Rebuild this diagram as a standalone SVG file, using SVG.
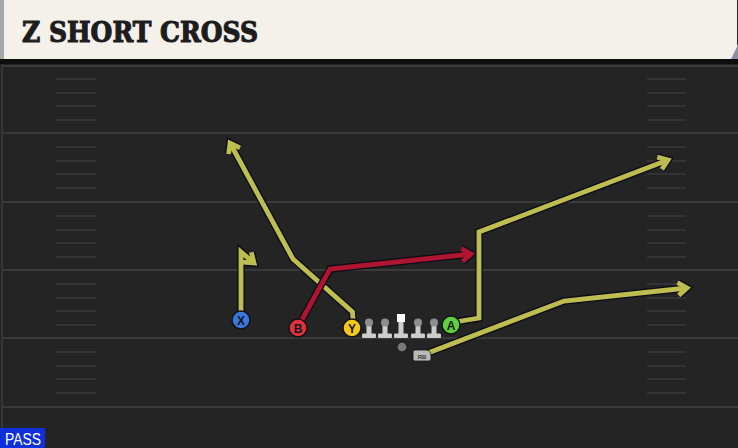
<svg xmlns="http://www.w3.org/2000/svg" xmlns:xlink="http://www.w3.org/1999/xlink" width="738" height="448" viewBox="0 0 738 448">
<style>
.yard{stroke:#3a3a3a;stroke-width:2;fill:none}
.hash{stroke:#333333;stroke-width:2;fill:none}
.out{fill:none;stroke:#0c0c18;stroke-width:7.5;stroke-linejoin:miter;stroke-linecap:butt}
.yel{fill:none;stroke:#bdbd50;stroke-width:4.8;stroke-linejoin:miter;stroke-linecap:butt}
.red{fill:none;stroke:#ae1530;stroke-width:4.8;stroke-linejoin:miter;stroke-linecap:butt}
.lbl{font-family:"Liberation Sans",Arial,sans-serif;font-weight:bold;font-size:12px;fill:#15151c;text-anchor:middle}
.pc{stroke:#111;stroke-width:1.4}
</style>
<defs>
<marker id="mo" viewBox="-14 -10 18 20" markerWidth="18" markerHeight="20" refX="0" refY="0" orient="auto" markerUnits="userSpaceOnUse" overflow="visible"><path d="M-9,-6.5 L0,0 L-9,6.5" fill="none" stroke="#0c0c18" stroke-width="7.5"/></marker>
<marker id="my" viewBox="-14 -10 18 20" markerWidth="18" markerHeight="20" refX="0" refY="0" orient="auto" markerUnits="userSpaceOnUse" overflow="visible"><path d="M-9,-6.5 L0,0 L-9,6.5" fill="none" stroke="#bdbd50" stroke-width="4.8"/></marker>
<marker id="mr" viewBox="-14 -10 18 20" markerWidth="18" markerHeight="20" refX="0" refY="0" orient="auto" markerUnits="userSpaceOnUse" overflow="visible"><path d="M-9,-6.5 L0,0 L-9,6.5" fill="none" stroke="#ae1530" stroke-width="4.8"/></marker>
<g id="lm">
<rect x="-7" y="-4.5" width="14" height="4.5" rx="1.2" fill="#cdcdcd"/>
<rect x="-2.5" y="-15" width="5" height="11" fill="#cdcdcd"/>
<circle cx="0" cy="-15.5" r="4" fill="#8e8e8e"/>
</g>
</defs>

<!-- field -->
<rect x="0" y="0" width="738" height="448" fill="#242424"/>
<rect x="0" y="58" width="738" height="6" fill="#0e0e0e"/>
<line x1="2" y1="64" x2="2" y2="448" stroke="#363636" stroke-width="2"/>
<path class="yard" d="M3,66H738M3,133H738M3,202H738M3,270H738M3,338H738M3,407H738"/>
<path class="hash" d="M56,79H96M56,93H96M56,106H96M56,120H96M56,147H96M56,161H96M56,174H96M56,188H96M56,216H96M56,230H96M56,243H96M56,257H96M56,284H96M56,298H96M56,311H96M56,325H96M56,352H96M56,366H96M56,379H96M56,393H96
M647,79H686M647,93H686M647,106H686M647,120H686M647,147H686M647,161H686M647,174H686M647,188H686M647,216H686M647,230H686M647,243H686M647,257H686M647,284H686M647,298H686M647,311H686M647,325H686M647,352H686M647,366H686M647,379H686M647,393H686"/>

<!-- header -->
<g id="header">
<polygon points="728,59 738,44 738,59" fill="#8a92a0"/>
<polygon points="0,0 737,0 737,47 731,59 0,59" fill="#f4f1ea"/>
<rect x="0" y="0" width="4" height="59" fill="#a3a7a7"/>
<text x="22" y="42" font-family="'DejaVu Serif',serif" font-weight="bold" font-size="27" fill="#1d1d1d" stroke="#1d1d1d" stroke-width="1.1" textLength="236" lengthAdjust="spacingAndGlyphs">Z SHORT CROSS</text>
</g>

<!-- connectors -->
<g id="connectors">
<path class="out" marker-end="url(#mo)" d="M241,320 L241,252 L254,263"/>
<path class="yel" marker-end="url(#my)" d="M241,320 L241,252 L254,263"/>
<path class="out" marker-end="url(#mo)" d="M353,320 L352.5,312 L293,259 L230,143"/>
<path class="yel" marker-end="url(#my)" d="M353,320 L352.5,312 L293,259 L230,143"/>
<path class="out" marker-end="url(#mo)" d="M299,325 L330,269 L471,254"/>
<path class="red" marker-end="url(#mr)" d="M299,325 L330,269 L471,254"/>
<path class="out" marker-end="url(#mo)" d="M455,322 L479,318 L479,232 L668,160"/>
<path class="yel" marker-end="url(#my)" d="M455,322 L479,318 L479,232 L668,160"/>
<path class="out" marker-end="url(#mo)" d="M428,353 L564,301 L687,288"/>
<path class="yel" marker-end="url(#my)" d="M428,353 L564,301 L687,288"/>
</g>

<!-- players -->
<g id="X"><circle class="pc" cx="241" cy="320" r="9" fill="#3b78dc"/><text class="lbl" x="241" y="324.5">X</text></g>
<g id="B"><circle class="pc" cx="298" cy="328" r="9" fill="#e0323c"/><text class="lbl" x="298" y="332.5">B</text></g>
<g id="Y"><circle class="pc" cx="352" cy="328" r="9" fill="#f6c918"/><text class="lbl" x="352" y="332.5">Y</text></g>
<g id="A"><circle class="pc" cx="451" cy="325" r="9" fill="#5fd13c"/><text class="lbl" x="451" y="329.5">A</text></g>
<g id="LT"><use xlink:href="#lm" x="369" y="338"/></g>
<g id="LG"><use xlink:href="#lm" x="385" y="338"/></g>
<g id="C">
<rect x="-7" y="-4.5" width="14" height="4.5" rx="1.2" fill="#cdcdcd" transform="translate(401,338)"/>
<rect x="398.5" y="321" width="5" height="13" fill="#cdcdcd"/>
<rect x="397" y="314" width="8" height="8" fill="#ffffff"/>
</g>
<g id="RG"><use xlink:href="#lm" x="418" y="338"/></g>
<g id="RT"><use xlink:href="#lm" x="434" y="338"/></g>
<g id="QB"><circle cx="402" cy="347" r="4.3" fill="#7a7a7a"/></g>
<g id="RB">
<path d="M413,352 Q413,350 415,350 L426,350 Q431,350 431,356 L431,359 Q431,361 429,361 L415,361 Q413,361 413,359 Z" fill="#b9b9b9" stroke="#111" stroke-width="0.8"/>
<text x="422" y="358.5" font-family="'Liberation Sans',Arial,sans-serif" font-weight="bold" font-size="6" fill="#333" text-anchor="middle">RB</text>
</g>

<!-- pass tag -->
<g id="pass">
<rect x="0" y="428" width="45" height="20" fill="#0e2fd9"/>
<text x="5" y="445" font-family="'Liberation Sans',Arial,sans-serif" font-size="16" fill="#ffffff" textLength="36" lengthAdjust="spacingAndGlyphs">PASS</text>
</g>
</svg>
